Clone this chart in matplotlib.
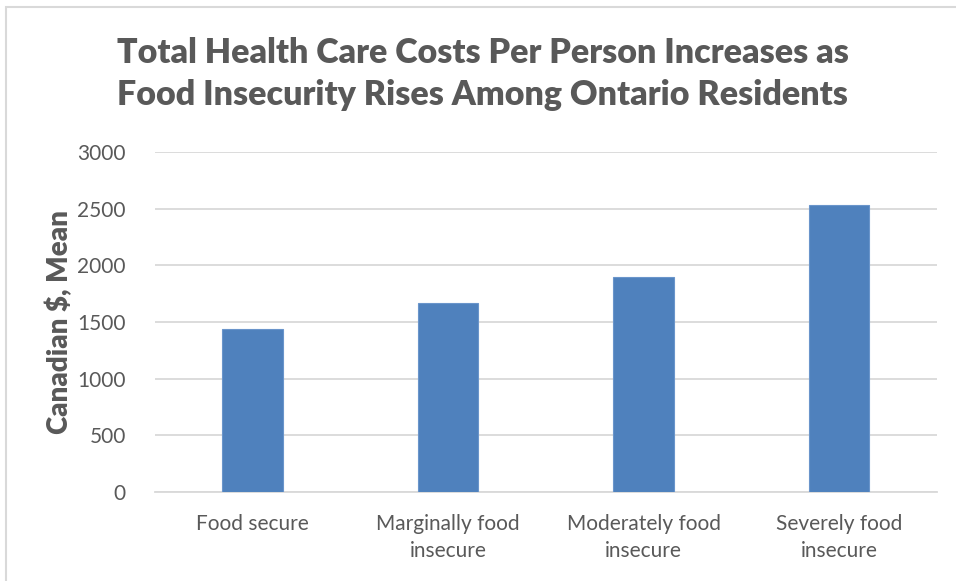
import matplotlib.pyplot as plt
from matplotlib.patches import Rectangle

categorias = ['Food secure', 'Marginally food\ninsecure', 'Moderately food\ninsecure', 'Severely food\ninsecure']
custo_medio = [1438, 1670, 1895, 2528]
yticks = [0, 500, 1000, 1500, 2000, 2500, 3000]

cinza = '#595959'
azul = '#4F81BD'

plt.rcParams['font.family'] = ['Lato', 'DejaVu Sans']

fig = plt.figure(figsize=(9.56, 5.81), dpi=100)
ax = fig.add_axes([0.162, 0.1532, 0.818, 0.5852])

# moldura do gráfico
fig.patches.append(Rectangle((6/956, -0.01), 1.0, 1 - 7/581 + 0.01, transform=fig.transFigure,
                             fill=False, edgecolor='#D9D9D9', linewidth=1.5))

x = range(len(categorias))
ax.bar(x, custo_medio, width=0.31, color=azul, edgecolor='#6A95CB', linewidth=0.8, zorder=3)

ax.set_xlim(-0.5, 3.5)
ax.set_ylim(0, 3000)
ax.set_yticks(yticks)
ax.set_yticklabels([str(v) for v in yticks])
ax.set_xticks(list(x))
ax.set_xticklabels(categorias, linespacing=1.45)

ax.grid(axis='y', color='#D9D9D9', linewidth=1.3, zorder=0)
for s in ['top', 'right', 'left']:
    ax.spines[s].set_visible(False)
ax.spines['bottom'].set_color('#D9D9D9')
ax.spines['bottom'].set_linewidth(1.3)

ax.tick_params(axis='both', length=0, labelsize=15, colors=cinza)
ax.tick_params(axis='y', pad=21)
ax.tick_params(axis='x', pad=16)

ax.set_ylabel('Canadian $, Mean', fontsize=20, fontweight='heavy', color=cinza)
ax.yaxis.set_label_coords(-0.104, 0.5)

fig.text(0.505, 0.873, 'Total Health Care Costs Per Person Increases as\nFood Insecurity Rises Among Ontario Residents',
         ha='center', va='center', fontsize=24.5, fontweight='heavy', color=cinza, linespacing=1.4)

fig.savefig('out.png', dpi=100)
